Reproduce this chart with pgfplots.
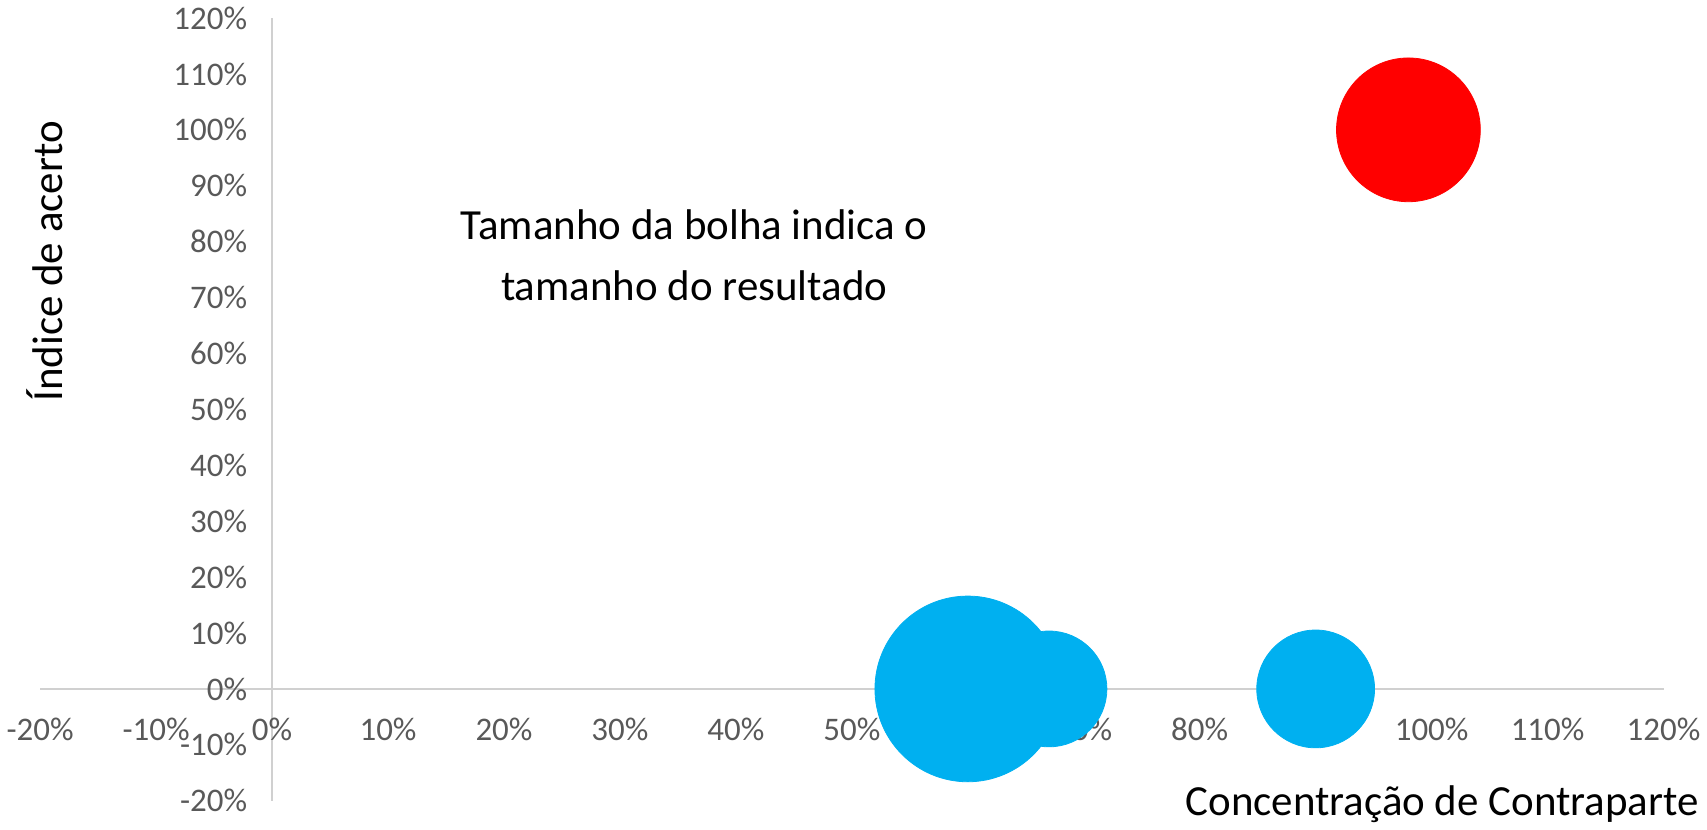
\documentclass[border=0pt]{standalone}
\usepackage{fontspec}
\setmainfont{Carlito}
\usepackage{pgfplots}
\pgfplotsset{compat=1.18}
\definecolor{bblue}{HTML}{00B0F0}
\definecolor{bred}{HTML}{FF0000}
\definecolor{ticktxt}{HTML}{595959}
\definecolor{axgray}{HTML}{D0D0D0}
\begin{document}
\begin{tikzpicture}
\begin{axis}[
  scale only axis,
  width=813pt, height=392pt,
  xmin=-0.2, xmax=1.2, ymin=-0.2, ymax=1.2,
  axis lines=center,
  axis line style={-, draw=axgray, line width=1pt},
  hide obscured x ticks=false, hide obscured y ticks=false,
  major tick length=0pt,
  xtick={-0.2,-0.1,0,0.1,0.2,0.3,0.4,0.5,0.6,0.7,0.8,0.9,1.0,1.1,1.2},
  xticklabels={-20\%,-10\%,0\%,10\%,20\%,30\%,40\%,50\%,60\%,70\%,80\%,90\%,100\%,110\%,120\%},
  ytick={-0.2,-0.1,0,0.1,0.2,0.3,0.4,0.5,0.6,0.7,0.8,0.9,1.0,1.1,1.2},
  yticklabels={-20\%,-10\%,0\%,10\%,20\%,30\%,40\%,50\%,60\%,70\%,80\%,90\%,100\%,110\%,120\%},
  tick label style={font=\fontsize{16.5}{19}\selectfont, text=ticktxt},
  x tick label style={anchor=center, yshift=-20.5pt},
  y tick label style={anchor=east, xshift=-9pt},
  xlabel={Concentração de Contraparte},
  ylabel={Índice de acerto},
  label style={font=\fontsize{21.5}{26}\selectfont},
  xlabel style={at={(axis description cs:1.026,-0.005)}, anchor=east},
  ylabel style={at={(axis description cs:0.003,0.689)}, anchor=center, rotate=90},
  clip=false,
]
\addplot[scatter, only marks, mark=*,
  scatter/use mapped color={draw=bblue, fill=bblue},
  visualization depends on={\thisrow{r}\as\rad},
  scatter/@pre marker code/.append style={/tikz/mark size=\rad pt}]
  table[x=x, y=y] {
x    y    r
0.60 0.00 46.5
0.67 0.00 29
0.90 0.00 29.5
};
\addplot[scatter, only marks, mark=*,
  scatter/use mapped color={draw=bred, fill=bred},
  visualization depends on={\thisrow{r}\as\rad},
  scatter/@pre marker code/.append style={/tikz/mark size=\rad pt}]
  table[x=x, y=y] {
x    y    r
0.98 1.00 36
};
\node[align=center, font=\fontsize{21.5}{30.5}\selectfont] at (axis cs:0.364,0.776)
  {Tamanho da bolha indica o\\tamanho do resultado};
\end{axis}
\end{tikzpicture}
\end{document}
